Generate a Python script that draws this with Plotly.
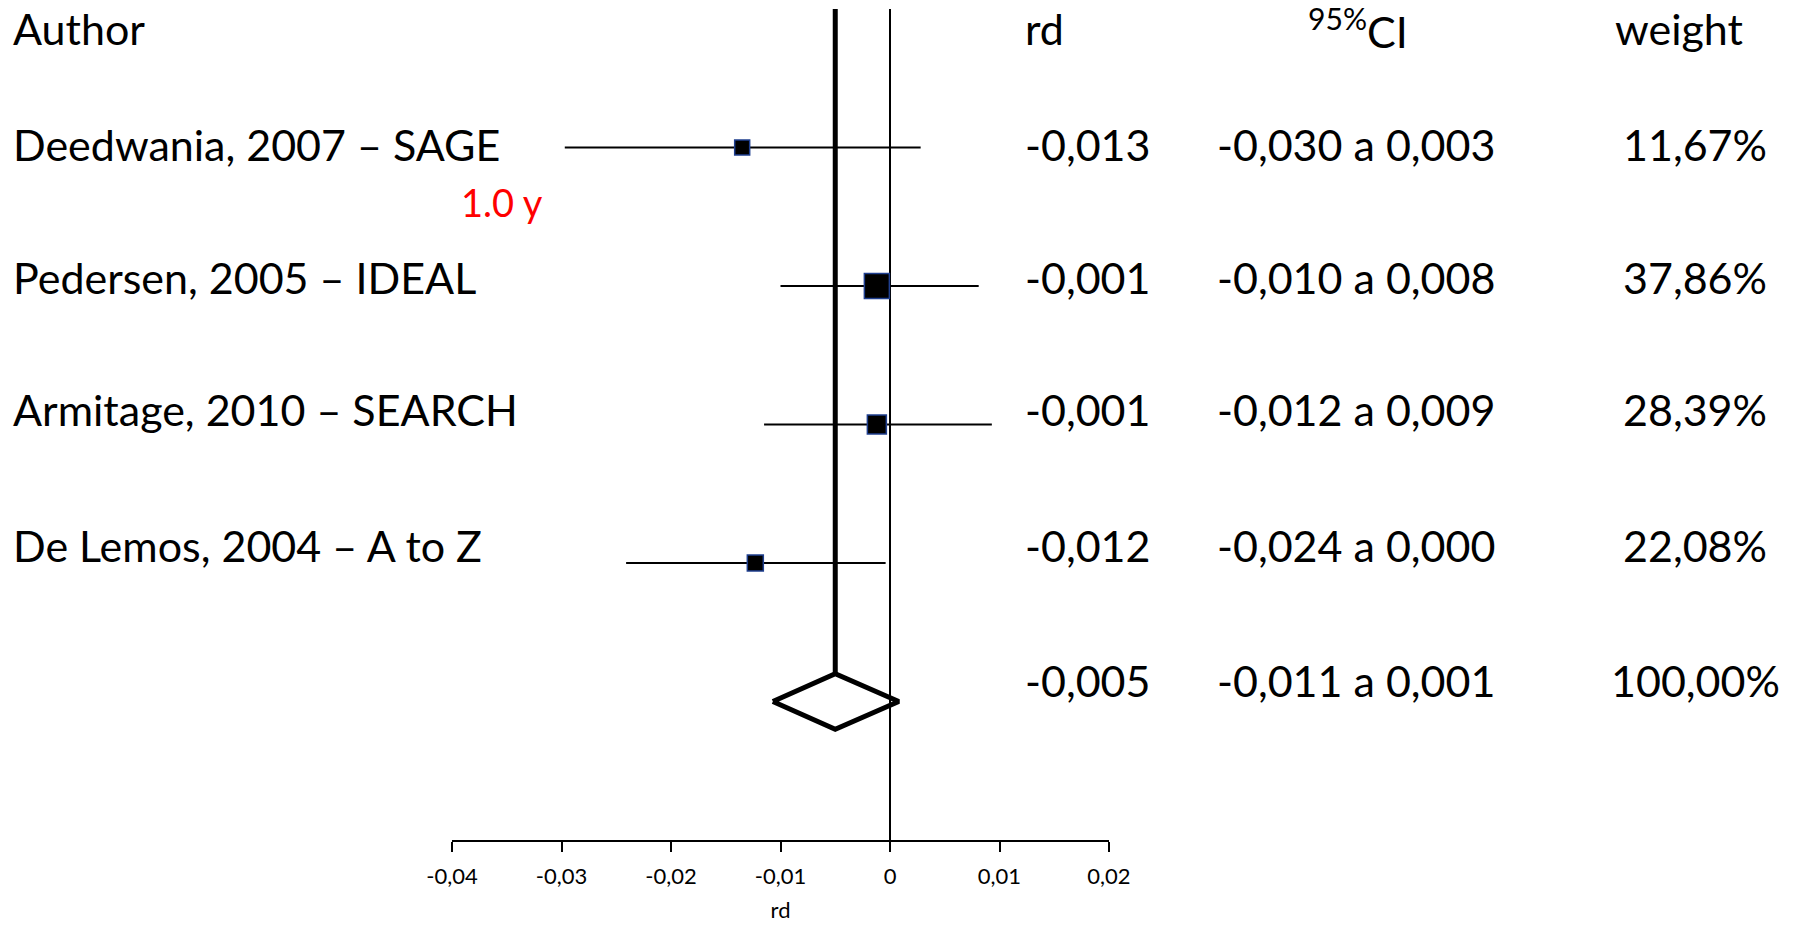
import plotly.graph_objects as go

# ---------------- data ----------------
studies = ["Deedwania, 2007 – SAGE", "Pedersen, 2005 – IDEAL",
           "Armitage, 2010 – SEARCH", "De Lemos, 2004 – A to Z"]
rd_point = [-0.0135, -0.0012, -0.0012, -0.0123]
ci_low = [-0.0297, -0.0100, -0.0115, -0.0241]
ci_high = [0.0028, 0.0081, 0.0093, -0.0004]
rd_labels = ["-0,013", "-0,001", "-0,001", "-0,012"]
ci_labels = ["-0,030 a 0,003", "-0,010 a 0,008", "-0,012 a 0,009", "-0,024 a 0,000"]
weight_labels = ["11,67%", "37,86%", "28,39%", "22,08%"]
pooled_rd = -0.005
pooled_low = -0.0107
pooled_high = 0.0008
pooled_labels = ["-0,005", "-0,011 a 0,001", "100,00%"]
tick_vals = [-0.04, -0.03, -0.02, -0.01, 0, 0.01, 0.02]
tick_text = ["-0,04", "-0,03", "-0,02", "-0,01", "0", "0,01", "0,02"]
headers = ["Author", "rd", "<sup>95%</sup>CI", "weight"]
note_text = "1.0 y"

# ---------------- styles ----------------
W, H = 1796, 927
L, R, T, B = 452, 687, 9, 87
FONT = "Lato, Carlito, 'Open Sans', sans-serif"
FS = 43
marker_sizes = [15, 25, 19, 16]
rows = list(range(len(studies)))
pooled_row = len(studies)
diamond_half = 0.2
text_y = [-0.025, 0.935, 1.895, 2.875, 3.845]
header_y = -0.86


def px_to_paper(px):
    return (px - L) / (W - L - R)


fig = go.Figure()

# line of no effect
fig.add_trace(go.Scatter(x=[0, 0], y=[-1, 5], mode="lines",
                         line=dict(color="black", width=2), hoverinfo="skip"))
# pooled estimate line
fig.add_trace(go.Scatter(x=[pooled_rd, pooled_rd], y=[-1, pooled_row - diamond_half],
                         mode="lines", line=dict(color="black", width=5), hoverinfo="skip"))
# CI lines
for i in rows:
    fig.add_trace(go.Scatter(x=[ci_low[i], ci_high[i]], y=[i, i], mode="lines",
                             line=dict(color="black", width=2), hoverinfo="skip"))
# point estimates
fig.add_trace(go.Scatter(x=rd_point, y=rows, mode="markers",
                         marker=dict(symbol="square", color="#000000", size=marker_sizes,
                                     opacity=1,
                                     line=dict(color="#1f3f8f", width=1.5))))
# pooled diamond
fig.add_trace(go.Scatter(
    x=[pooled_low, pooled_rd, pooled_high, pooled_rd, pooled_low],
    y=[pooled_row, pooled_row - diamond_half, pooled_row, pooled_row + diamond_half, pooled_row],
    mode="lines", line=dict(color="black", width=5), hoverinfo="skip"))

ann = []
def add_text(txt, xpx, y, anchor="left", size=FS, color="black"):
    ann.append(dict(text=txt, x=px_to_paper(xpx), xref="paper", y=y, yref="y",
                    xanchor=anchor, yanchor="middle", showarrow=False,
                    font=dict(family=FONT, size=size, color=color)))

# headers
add_text(headers[0], 11, header_y)
add_text(headers[1], 1023, header_y)
add_text(headers[2], 1358, header_y, anchor="center")
add_text(headers[3], 1613, header_y)
# rows
for i in rows:
    add_text(studies[i], 11, text_y[i])
    add_text(rd_labels[i], 1023, text_y[i])
    add_text(ci_labels[i], 1215, text_y[i])
    add_text(weight_labels[i], 1695, text_y[i], anchor="center")
add_text(pooled_labels[0], 1023, text_y[pooled_row])
add_text(pooled_labels[1], 1215, text_y[pooled_row])
add_text(pooled_labels[2], 1695, text_y[pooled_row], anchor="center")
# red note
add_text(note_text, 459, 0.39, size=38, color="red")

fig.update_layout(
    width=W, height=H,
    margin=dict(l=L, r=R, t=T, b=B),
    paper_bgcolor="white", plot_bgcolor="white",
    showlegend=False,
    annotations=ann,
    font=dict(family=FONT, color="black"),
    xaxis=dict(range=[-0.04, 0.02], tickvals=tick_vals, ticktext=tick_text,
               showgrid=False, zeroline=False, showline=True, linecolor="black",
               linewidth=2, ticks="outside", ticklen=10, tickwidth=2, tickcolor="black",
               tickfont=dict(family=FONT, size=22, color="black"),
               ticklabelstandoff=6,
               title=dict(text="rd", font=dict(family=FONT, size=22, color="black"),
                          standoff=14),
               fixedrange=True),
    yaxis=dict(range=[5, -1], visible=False, showgrid=False, zeroline=False,
               fixedrange=True),
)

fig.write_html("out.html")
